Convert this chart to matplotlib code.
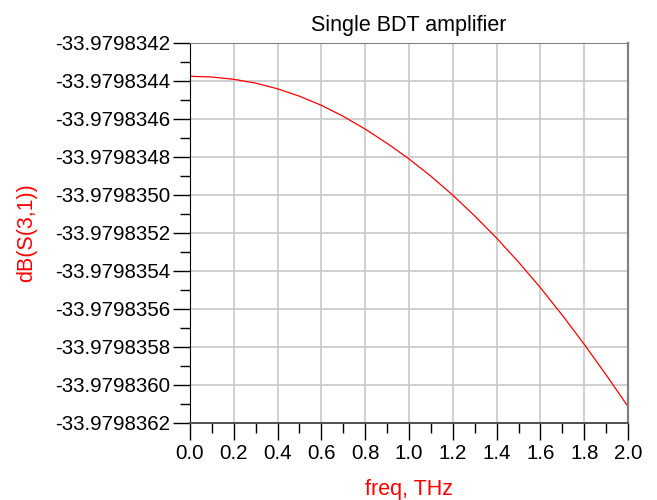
import matplotlib.pyplot as plt
import numpy as np
from matplotlib.ticker import MultipleLocator, FuncFormatter

plt.rcParams['font.family'] = ['Liberation Sans', 'DejaVu Sans']

# frequency (THz) and dB(S(3,1))
freq = [0.0, 0.1, 0.2, 0.3, 0.4, 0.5, 0.6, 0.7, 0.8, 0.9, 1.0,
        1.1, 1.2, 1.3, 1.4, 1.5, 1.6, 1.7, 1.8, 1.9, 2.0]
s31_db = [-33.979834375, -33.979834379, -33.979834391, -33.979834411,
          -33.979834441, -33.979834480, -33.979834528, -33.979834586,
          -33.979834653, -33.979834728, -33.979834810, -33.979834901,
          -33.979835001, -33.979835110, -33.979835227, -33.979835353,
          -33.979835488, -33.979835633, -33.979835786, -33.979835947,
          -33.979836114]

y_ticks = [-33.9798342, -33.9798344, -33.9798346, -33.9798348, -33.9798350,
           -33.9798352, -33.9798354, -33.9798356, -33.9798358, -33.9798360,
           -33.9798362]
x_ticks = [0.0, 0.2, 0.4, 0.6, 0.8, 1.0, 1.2, 1.4, 1.6, 1.8, 2.0]

fig = plt.figure(figsize=(6.57, 5), dpi=100)
ax = fig.add_axes([0.289, 0.154, 0.667, 0.760])

ax.plot(freq, s31_db, color='red', lw=0.9)

ax.set_xlim(0, 2.0)
ax.set_ylim(y_ticks[-1], y_ticks[0])
ax.set_xticks(x_ticks)
ax.set_yticks(y_ticks)
ax.xaxis.set_minor_locator(MultipleLocator(0.1))
ax.yaxis.set_minor_locator(MultipleLocator(1e-7))
ax.xaxis.set_major_formatter(FuncFormatter(lambda v, p: '%.1f' % v))
ax.yaxis.set_major_formatter(FuncFormatter(lambda v, p: '%.7f' % v))
ax.tick_params(which='major', length=12, width=1, labelsize=14.8, pad=2)
ax.tick_params(axis='x', which='major', pad=3)
ax.tick_params(which='minor', length=7, width=1)

ax.grid(True, which='major', color='#c8c8c8', lw=1.2)
ax.set_axisbelow(True)
for s in ['top', 'right']:
    ax.spines[s].set_color('#808080')
ax.spines['right'].set_linewidth(1.6)
ax.spines['bottom'].set_color('#505050')
ax.spines['bottom'].set_linewidth(1.4)
ax.spines['left'].set_color('black')

ax.set_title('Single BDT amplifier', fontsize=15.5, pad=9)
ax.set_xlabel('freq, THz', color='red', fontsize=15.5, labelpad=12)
ax.set_ylabel('dB(S(3,1))', color='red', fontsize=15.5, labelpad=13)

fig.savefig('out.png', dpi=100)
